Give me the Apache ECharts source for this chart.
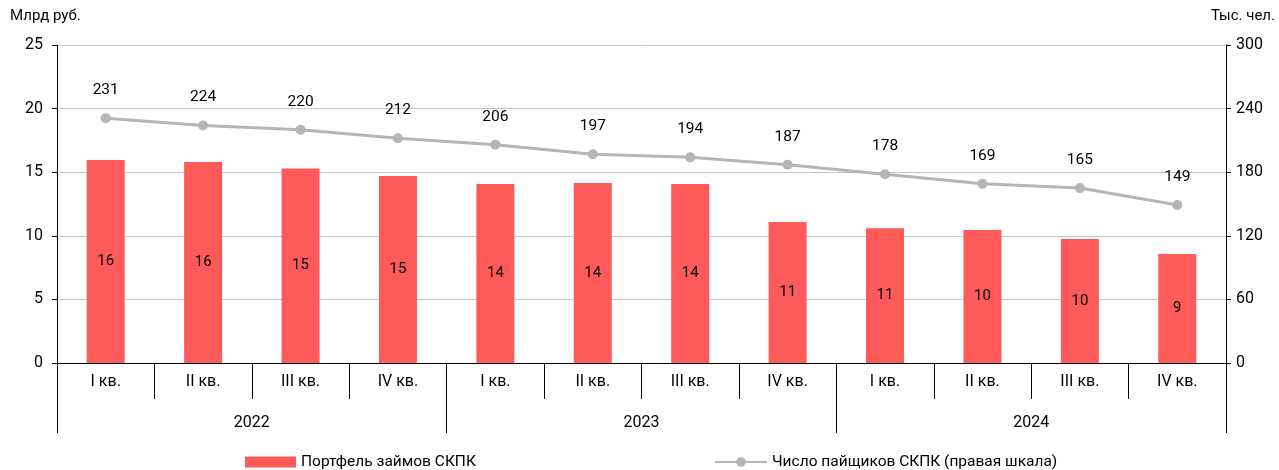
<!DOCTYPE html>
<html>
<head>
<meta charset="utf-8">
<script src="https://cdn.jsdelivr.net/npm/echarts@6/dist/echarts.min.js"></script>
<style>
  html, body { margin: 0; padding: 0; background: #fff; }
  #chart { width: 1279px; height: 470px; }
</style>
</head>
<body>
<div id="chart"></div>
<script>
const quarters = ["I кв.", "II кв.", "III кв.", "IV кв.", "I кв.", "II кв.", "III кв.", "IV кв.", "I кв.", "II кв.", "III кв.", "IV кв."];
const years = ["2022", "2023", "2024"];
const loans = [15.96, 15.8, 15.3, 14.7, 14.07, 14.15, 14.07, 11.08, 10.6, 10.46, 9.75, 8.57];
const members = [231, 224, 220, 212, 206, 197, 194, 187, 178, 169, 165, 149];
const leftTicks = { min: 0, max: 25, interval: 5 };
const rightTicks = { min: 0, max: 300, interval: 60 };

const font = "Roboto, 'Noto Sans', sans-serif";
const chart = echarts.init(document.getElementById("chart"));

const option = {
  animation: false,
  textStyle: { fontFamily: font, color: "#000" },
  grid: { left: 57, right: 53, top: 45, bottom: 107 },
  legend: [
    {
      data: [{ name: "Портфель займов СКПК", icon: "rect" }],
      left: 245, top: 454, padding: 0,
      itemWidth: 51, itemHeight: 11, itemGap: 4,
      textStyle: { fontSize: 15.5, fontFamily: font, color: "#000" }
    },
    {
      data: ["Число пайщиков СКПК (правая шкала)"],
      left: 714, top: 454, padding: 0,
      itemWidth: 52, itemHeight: 12,
      textStyle: { fontSize: 15.5, fontFamily: font, color: "#000" }
    }
  ],
  graphic: [
    { type: "text", left: 10, top: 9, style: { text: "Млрд руб.", font: "15px " + font, fill: "#000" } },
    { type: "text", right: 4, top: 9, style: { text: "Тыс. чел.", font: "15px " + font, fill: "#000" } }
  ],
  xAxis: [
    {
      type: "category",
      data: quarters,
      position: "bottom",
      axisLine: { lineStyle: { color: "#000", width: 1 } },
      axisTick: { show: true, interval: 0, length: 36, lineStyle: { color: "#000" } },
      axisLabel: { interval: 0, margin: 11, fontSize: 16, color: "#000", fontFamily: font }
    },
    {
      type: "category",
      data: years,
      position: "bottom",
      axisLine: { show: false },
      axisTick: { show: true, interval: 0, length: 70, lineStyle: { color: "#000" } },
      axisLabel: { interval: 0, margin: 52, fontSize: 16, color: "#000", fontFamily: font },
      splitLine: { show: false }
    }
  ],
  yAxis: [
    {
      type: "value",
      min: leftTicks.min, max: leftTicks.max, interval: leftTicks.interval,
      axisLine: { show: true, lineStyle: { color: "#000" } },
      axisTick: { show: true, length: 5, lineStyle: { color: "#000" } },
      axisLabel: { fontSize: 16, color: "#000", margin: 14, fontFamily: font },
      splitLine: { lineStyle: { color: "#c6c6c6", width: 1 } }
    },
    {
      type: "value",
      min: rightTicks.min, max: rightTicks.max, interval: rightTicks.interval,
      position: "right",
      axisLine: { show: true, lineStyle: { color: "#000" } },
      axisTick: { show: true, length: 5, lineStyle: { color: "#000" } },
      axisLabel: { fontSize: 16, color: "#000", margin: 10, fontFamily: font },
      splitLine: { show: false }
    }
  ],
  series: [
    {
      name: "Портфель займов СКПК",
      type: "bar",
      data: loans,
      xAxisIndex: 0,
      yAxisIndex: 0,
      barWidth: 38,
      itemStyle: { color: "#ff5a5a" },
      label: {
        show: true,
        position: "inside",
        fontSize: 15,
        color: "#000",
        fontFamily: font,
        formatter: p => Math.round(p.value)
      },
      z: 2
    },
    {
      name: "Число пайщиков СКПК (правая шкала)",
      type: "line",
      data: members,
      xAxisIndex: 0,
      yAxisIndex: 1,
      symbol: "circle",
      symbolSize: 10,
      lineStyle: { color: "#b5b5b5", width: 3 },
      itemStyle: { color: "#b5b5b5" },
      label: {
        show: true,
        position: "top",
        distance: 15,
        fontSize: 15.5,
        color: "#000",
        fontFamily: font
      },
      z: 3
    }
  ]
};

chart.setOption(option);
window.addEventListener("resize", () => chart.resize());
</script>
</body>
</html>
